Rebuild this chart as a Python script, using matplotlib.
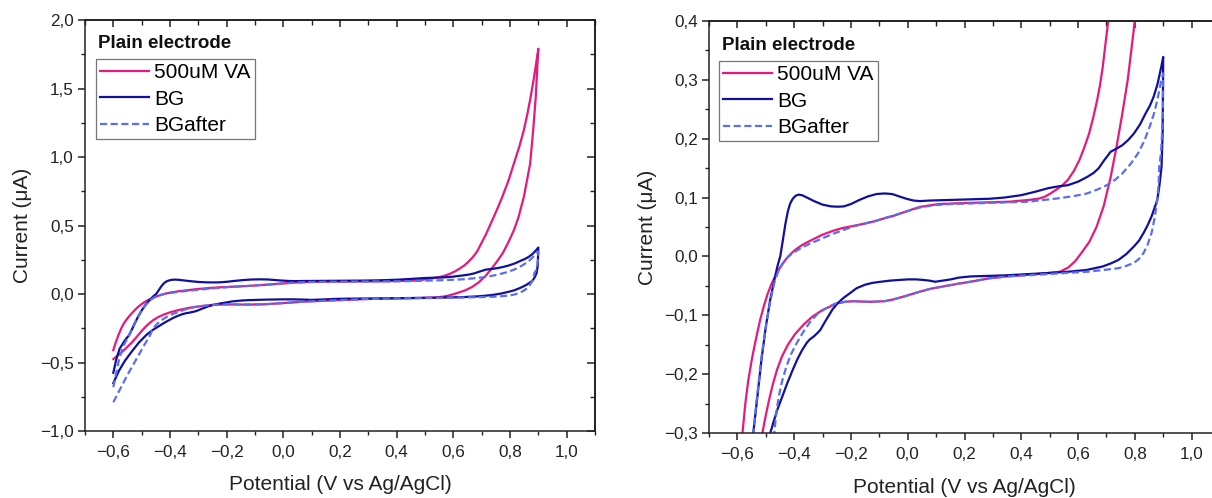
import matplotlib
matplotlib.use("Agg")
import matplotlib.pyplot as plt
from matplotlib.ticker import MultipleLocator, FuncFormatter

plt.rcParams['font.family'] = ['Liberation Sans', 'DejaVu Sans']

# ---------------- data (potential V vs Ag/AgCl, current uA) ----------------
va_fwd_v = [-0.600, -0.595, -0.589, -0.582, -0.572, -0.562, -0.551, -0.541, -0.530, -0.520,
            -0.506, -0.493, -0.480, -0.466, -0.450, -0.431, -0.415, -0.397, -0.370, -0.342,
            -0.300, -0.260, -0.232, -0.190, -0.150, -0.115, -0.081, -0.050, -0.026, 0.010,
            0.042, 0.080, 0.111, 0.160, 0.221, 0.290, 0.358, 0.426, 0.460, 0.481,
            0.500, 0.522, 0.545, 0.564, 0.585, 0.605, 0.622, 0.639, 0.653, 0.667,
            0.677, 0.687, 0.700, 0.714, 0.727, 0.740, 0.757, 0.773, 0.795, 0.814,
            0.832, 0.849, 0.862, 0.873, 0.883, 0.892, 0.900]
va_fwd_i = [-0.410, -0.375, -0.340, -0.300, -0.250, -0.212, -0.180, -0.155, -0.130, -0.108,
            -0.083, -0.063, -0.047, -0.033, -0.019, -0.006, 0.003, 0.011, 0.020, 0.027,
            0.037, 0.044, 0.048, 0.052, 0.056, 0.060, 0.065, 0.069, 0.073, 0.079,
            0.084, 0.087, 0.089, 0.090, 0.091, 0.092, 0.093, 0.096, 0.098, 0.101,
            0.106, 0.113, 0.121, 0.130, 0.145, 0.164, 0.185, 0.209, 0.235, 0.265,
            0.290, 0.322, 0.375, 0.430, 0.490, 0.550, 0.630, 0.710, 0.830, 0.954,
            1.070, 1.197, 1.320, 1.440, 1.560, 1.680, 1.790]
va_rev_v = [0.900, 0.897, 0.891, 0.882, 0.871, 0.849, 0.830, 0.814, 0.795, 0.775,
            0.755, 0.735, 0.715, 0.690, 0.665, 0.640, 0.612, 0.590, 0.565, 0.536,
            0.480, 0.426, 0.350, 0.289, 0.221, 0.170, 0.125, 0.080, 0.042, -0.013,
            -0.050, -0.081, -0.120, -0.150, -0.190, -0.219, -0.250, -0.273, -0.300, -0.335,
            -0.365, -0.397, -0.422, -0.443, -0.460, -0.475, -0.488, -0.500, -0.512, -0.535,
            -0.565, -0.600]
va_rev_i = [1.790, 1.680, 1.440, 1.200, 0.950, 0.710, 0.560, 0.467, 0.380, 0.300,
            0.240, 0.185, 0.135, 0.085, 0.050, 0.025, 0.006, -0.008, -0.019, -0.026,
            -0.029, -0.031, -0.034, -0.037, -0.043, -0.047, -0.051, -0.055, -0.060, -0.068,
            -0.073, -0.076, -0.077, -0.077, -0.076, -0.077, -0.080, -0.085, -0.091, -0.102,
            -0.115, -0.132, -0.150, -0.170, -0.192, -0.217, -0.243, -0.270, -0.300, -0.355,
            -0.415, -0.475]

bg_fwd_v = [-0.600, -0.590, -0.578, -0.560, -0.544, -0.530, -0.515, -0.500, -0.485, -0.470,
            -0.458, -0.449, -0.440, -0.431, -0.422, -0.414, -0.405, -0.395, -0.385, -0.372,
            -0.355, -0.330, -0.300, -0.270, -0.245, -0.225, -0.200, -0.170, -0.140, -0.110,
            -0.081, -0.055, -0.030, -0.005, 0.020, 0.042, 0.080, 0.152, 0.220, 0.289,
            0.340, 0.399, 0.450, 0.495, 0.530, 0.564, 0.600, 0.632, 0.655, 0.673,
            0.690, 0.701, 0.715, 0.735, 0.756, 0.777, 0.797, 0.818, 0.838, 0.853,
            0.866, 0.880, 0.893, 0.900]
bg_fwd_i = [-0.575, -0.480, -0.400, -0.340, -0.300, -0.240, -0.175, -0.120, -0.075, -0.040,
            -0.015, 0.000, 0.027, 0.055, 0.077, 0.090, 0.098, 0.103, 0.105, 0.104,
            0.100, 0.094, 0.088, 0.085, 0.0845, 0.085, 0.089, 0.096, 0.102, 0.106,
            0.107, 0.106, 0.102, 0.098, 0.095, 0.094, 0.095, 0.096, 0.097, 0.098,
            0.100, 0.104, 0.110, 0.116, 0.119, 0.121, 0.127, 0.135, 0.142, 0.150,
            0.162, 0.169, 0.178, 0.183, 0.189, 0.198, 0.209, 0.224, 0.243, 0.256,
            0.271, 0.293, 0.322, 0.339]
bg_rev_v = [0.900, 0.899, 0.898, 0.894, 0.886, 0.879, 0.859, 0.845, 0.831, 0.815,
            0.797, 0.770, 0.742, 0.715, 0.687, 0.630, 0.564, 0.500, 0.426, 0.350,
            0.289, 0.221, 0.180, 0.152, 0.125, 0.097, 0.075, 0.056, 0.030, 0.001,
            -0.030, -0.060, -0.095, -0.125, -0.150, -0.180, -0.205, -0.225, -0.246, -0.265,
            -0.280, -0.295, -0.308, -0.320, -0.331, -0.345, -0.356, -0.373, -0.390, -0.407,
            -0.424, -0.441, -0.459, -0.472, -0.484, -0.510, -0.535, -0.560, -0.580, -0.600]
bg_rev_i = [0.339, 0.280, 0.209, 0.152, 0.118, 0.096, 0.068, 0.053, 0.040, 0.027,
            0.017, 0.004, -0.006, -0.012, -0.017, -0.023, -0.026, -0.028, -0.030, -0.032,
            -0.033, -0.034, -0.036, -0.039, -0.041, -0.043, -0.041, -0.040, -0.039, -0.039,
            -0.040, -0.041, -0.043, -0.045, -0.048, -0.054, -0.063, -0.070, -0.079, -0.090,
            -0.102, -0.114, -0.125, -0.131, -0.136, -0.141, -0.147, -0.160, -0.176, -0.195,
            -0.215, -0.237, -0.260, -0.280, -0.300, -0.355, -0.420, -0.490, -0.560, -0.650]

bga_fwd_v = [-0.600, -0.592, -0.580, -0.565, -0.544, -0.530, -0.515, -0.500, -0.485, -0.470,
             -0.455, -0.438, -0.420, -0.397, -0.370, -0.342, -0.300, -0.260, -0.220, -0.191,
             -0.150, -0.115, -0.081, -0.040, 0.000, 0.042, 0.090, 0.152, 0.220, 0.289,
             0.360, 0.426, 0.480, 0.536, 0.590, 0.632, 0.670, 0.701, 0.730, 0.756,
             0.785, 0.811, 0.833, 0.852, 0.867, 0.879, 0.893, 0.900]
bga_fwd_i = [-0.680, -0.600, -0.480, -0.380, -0.300, -0.235, -0.170, -0.120, -0.078, -0.045,
             -0.024, -0.010, 0.000, 0.008, 0.016, 0.022, 0.031, 0.039, 0.046, 0.051,
             0.056, 0.060, 0.065, 0.071, 0.077, 0.083, 0.087, 0.089, 0.090, 0.091,
             0.092, 0.093, 0.096, 0.099, 0.103, 0.107, 0.114, 0.121, 0.130, 0.141,
             0.157, 0.175, 0.196, 0.220, 0.242, 0.265, 0.299, 0.311]
bga_rev_v = [0.900, 0.899, 0.896, 0.892, 0.886, 0.884, 0.879, 0.870, 0.859, 0.845,
             0.831, 0.815, 0.797, 0.770, 0.742, 0.690, 0.632, 0.560, 0.495, 0.426,
             0.350, 0.289, 0.221, 0.170, 0.125, 0.080, 0.042, -0.013, -0.050, -0.081,
             -0.120, -0.150, -0.190, -0.219, -0.250, -0.280, -0.315, -0.345, -0.370, -0.392,
             -0.411, -0.428, -0.443, -0.455, -0.464, -0.470, -0.490, -0.520, -0.550, -0.575,
             -0.600]
bga_rev_i = [0.311, 0.250, 0.209, 0.175, 0.152, 0.125, 0.096, 0.066, 0.040, 0.020,
             0.006, -0.004, -0.011, -0.016, -0.020, -0.023, -0.026, -0.028, -0.030, -0.032,
             -0.034, -0.037, -0.043, -0.047, -0.051, -0.055, -0.060, -0.068, -0.073, -0.076,
             -0.077, -0.077, -0.076, -0.077, -0.079, -0.086, -0.096, -0.112, -0.130, -0.148,
             -0.166, -0.188, -0.213, -0.240, -0.270, -0.300, -0.370, -0.480, -0.590, -0.690,
             -0.790]

series_labels = ["500uM VA", "BG", "BGafter"]
legend_title = "Plain electrode"
x_label = "Potential (V vs Ag/AgCl)"
y_label = "Current (\u03bcA)"

# ---------------- styling ----------------
C_PINK = "#E8187C"
C_NAVY = "#1010A0"
C_DASH = "#5A6EEE"

W, H = 1212, 498
fig = plt.figure(figsize=(W / 100, H / 100), dpi=100)


def px_axes(l, t, r, b):
    return fig.add_axes([l / W, 1 - b / H, (r - l) / W, (b - t) / H])


def fmt(v, pos):
    if abs(v) < 1e-9:
        return "0,0"
    s = f"{v:.1f}".replace(".", ",")
    return s.replace("-", "\u2212")


def setup(ax, ylim, ymaj, ymin):
    ax.set_xlim(-0.7, 1.1)
    ax.set_ylim(*ylim)
    ax.xaxis.set_major_locator(MultipleLocator(0.2))
    ax.xaxis.set_minor_locator(MultipleLocator(0.1))
    ax.yaxis.set_major_locator(MultipleLocator(ymaj))
    ax.yaxis.set_minor_locator(MultipleLocator(ymin))
    ax.xaxis.set_major_formatter(FuncFormatter(fmt))
    ax.yaxis.set_major_formatter(FuncFormatter(fmt))
    ax.tick_params(which='major', direction='out', length=5, width=1.1,
                   labelsize=12.3, pad=3, colors='#222222', labelcolor='#222222')
    ax.tick_params(axis='x', which='major', pad=5)
    ax.tick_params(which='minor', direction='out', length=2.8, width=1.0, colors='#222222')
    for sp in ax.spines.values():
        sp.set_linewidth(1.1)
        sp.set_color('#222222')
    sx = ax.secondary_xaxis('top')
    sx.xaxis.set_major_locator(MultipleLocator(0.2))
    sx.xaxis.set_minor_locator(MultipleLocator(0.1))
    sx.tick_params(which='major', direction='in', length=5, width=1.1, labeltop=False, colors='#222222')
    sx.tick_params(which='minor', direction='in', length=3.5, width=1.0, colors='#222222')
    sx.spines['top'].set_linewidth(1.1)
    sy = ax.secondary_yaxis('right')
    sy.yaxis.set_major_locator(MultipleLocator(ymaj))
    sy.yaxis.set_minor_locator(MultipleLocator(ymin))
    sy.tick_params(which='major', direction='in', length=6, width=1.1, labelright=False, colors='#222222')
    sy.tick_params(which='minor', direction='in', length=3.5, width=1.0, colors='#222222')
    sy.spines['right'].set_linewidth(1.1)

    lw = 1.6
    ax.plot(va_fwd_v + va_rev_v, va_fwd_i + va_rev_i, color=C_PINK, lw=lw,
            label=series_labels[0])
    ax.plot(bg_fwd_v + bg_rev_v, bg_fwd_i + bg_rev_i, color=C_NAVY, lw=lw,
            label=series_labels[1])
    ax.plot(bga_fwd_v + bga_rev_v, bga_fwd_i + bga_rev_i, color=C_DASH, lw=lw,
            ls=(0, (3.2, 1.6)), label=series_labels[2])

    ax.set_xlabel(x_label, fontsize=15, color='#222222')
    ax.set_ylabel(y_label, fontsize=15, color='#222222')


def add_legend(ax, tx, ty, lx, ly):
    ax.text(tx, ty, legend_title, transform=ax.transAxes, fontsize=13.5,
            fontweight='bold', ha='left', va='center', color='#111111')
    leg = ax.legend(loc='upper left', bbox_to_anchor=(lx, ly), fontsize=15,
                    handlelength=2.35, handletextpad=0.25, labelspacing=0.36,
                    borderpad=0.2, borderaxespad=0, frameon=True, fancybox=False)
    leg.get_frame().set_edgecolor('#555555')
    leg.get_frame().set_linewidth(0.9)


# left panel
ax1 = px_axes(85, 20, 595, 431)
setup(ax1, (-1.0, 2.0), 0.5, 0.25)
ax1.xaxis.set_label_coords(0.5, -0.108)
ax1.yaxis.set_label_coords(-0.103, 0.5)
add_legend(ax1, 0.0255, 0.944, 0.021, 0.905)

# right panel (cropped at the figure edge)
ax2 = px_axes(709, 21, 1220, 433)
setup(ax2, (-0.3, 0.4), 0.1, 0.05)
ax2.xaxis.set_label_coords(0.5, -0.11)
ax2.yaxis.set_label_coords(-0.101, 0.5)
add_legend(ax2, 0.0254, 0.941, 0.0196, 0.903)

fig.savefig("out.png", dpi=100)
